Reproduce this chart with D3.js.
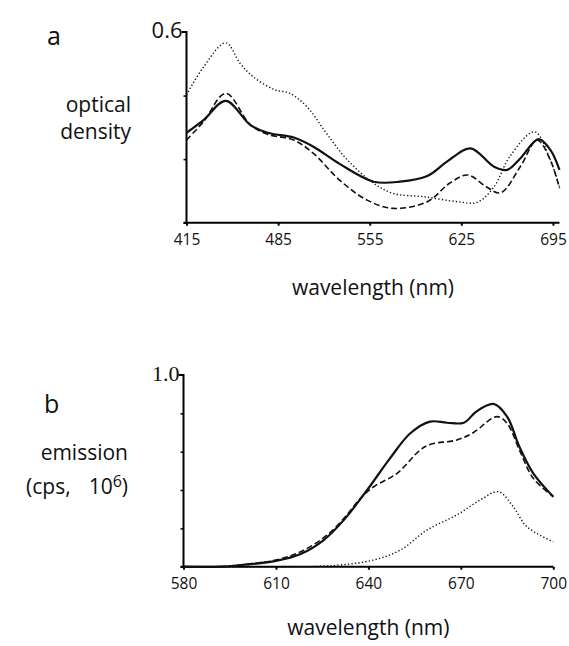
<!DOCTYPE html>
<html>
<head>
<meta charset="utf-8">
<script src="https://cdn.jsdelivr.net/npm/d3@7"></script>
<style>
  body { margin: 0; background: #fff; }
  svg text { font-family: "Open Sans", sans-serif; fill: #111; }
</style>
</head>
<body>
<div id="chart"></div>
<script>
(function(d3){

    // panel a : absorption (optical density) vs wavelength
    var absTicks = [415, 485, 555, 625, 695];
    var absSolid = [[415,0.283],[428,0.323],[445,0.383],[464,0.307],[477,0.283],[497,0.268],[512,0.239],
        [532,0.185],[558,0.129],[578,0.129],[599,0.147],[614,0.192],[632,0.234],[650,0.176],[660,0.166],
        [670,0.202],[684,0.263],[693,0.229],[700,0.166]];
    var absDashed = [[415,0.26],[428,0.318],[445,0.407],[464,0.307],[477,0.278],[497,0.26],[512,0.218],
        [532,0.134],[553,0.071],[573,0.045],[599,0.066],[616,0.124],[630,0.15],[644,0.113],[655,0.094],
        [670,0.176],[683,0.26],[693,0.197],[700,0.108]];
    var absDotted = [[415,0.402],[428,0.49],[445,0.566],[456,0.501],[466,0.459],[482,0.419],[494,0.407],
        [507,0.365],[522,0.281],[538,0.197],[558,0.124],[573,0.092],[596,0.082],[622,0.066],[637,0.064],
        [650,0.113],[662,0.208],[681,0.286],[693,0.197],[700,0.113]];

    // panel b : emission vs wavelength
    var emTicks = [580, 610, 640, 670, 700];
    var emSolid = [[580,0],[592,0],[599,0.009],[610,0.03],[618,0.066],[625.5,0.139],[632,0.243],[639.6,0.4],
        [647,0.565],[653.6,0.696],[660,0.757],[665.5,0.751],[671,0.751],[675,0.809],[680.6,0.849],
        [685,0.783],[689,0.626],[693.5,0.487],[700,0.365]];
    var emDashed = [[580,0],[592,0],[599,0.01],[610,0.035],[618,0.078],[626.6,0.165],[633,0.27],[637.4,0.357],
        [641.7,0.417],[649.3,0.487],[656.8,0.609],[660,0.638],[668.7,0.661],[674,0.699],[681.7,0.783],
        [685,0.748],[689,0.609],[693.5,0.461],[700,0.365]];
    var emDotted = [[580,0],[620,0],[631,0.009],[641.7,0.035],[650.4,0.087],[659,0.191],[668.7,0.27],
        [676.3,0.348],[682.2,0.391],[687,0.313],[691.4,0.209],[700,0.13]];

    var svg = d3.select("#chart").append("svg")
            .attr("width", 569)
            .attr("height", 646);

    var styles = {
        solid:  {w: 2.2, dash: null},
        dashed: {w: 1.6, dash: "6,3"},
        dotted: {w: 1.4, dash: "1.3,2.2"}
    };

    function drawPanel(opt){
        var x = d3.scaleLinear().domain(opt.xdom).range(opt.xr);
        var y = d3.scaleLinear().domain(opt.ydom).range(opt.yr);
        var g = svg.append("g");

        // axes
        g.append("g")
                .attr("transform", "translate(0," + opt.yr[0] + ")")
                .call(d3.axisBottom(x).tickValues(opt.xticks).tickSize(3).tickFormat(d3.format("d")))
                .call(function(a){
                    a.select(".domain").attr("d", "M" + (opt.xr[0] - 3) + ",0H" + opt.xr[1]).attr("stroke-width", 2);
                    a.selectAll(".tick line").attr("stroke-width", 2);
                    a.selectAll(".tick text").attr("dy", "1.05em")
                        .style("font-size", "15.5px");
                });
        g.append("g")
                .attr("transform", "translate(" + opt.xr[0] + ",0)")
                .call(d3.axisLeft(y).tickValues(opt.yticks).tickSize(3).tickFormat(""))
                .call(function(a){
                    a.select(".domain").attr("d", "M-5," + opt.yr[1] + "H0V" + opt.yr[0]).attr("stroke-width", 2);
                    a.selectAll(".tick line").attr("stroke-width", 1.5);
                });

        // curves
        var line = d3.line()
                .x(function(d){ return x(d[0]); })
                .y(function(d){ return y(d[1]); })
                .curve(d3.curveCatmullRom.alpha(0.5));
        opt.series.forEach(function(s){
            g.append("path")
                    .datum(s.data)
                    .attr("d", line)
                    .attr("fill", "none")
                    .attr("stroke", "#111")
                    .attr("stroke-width", styles[s.kind].w)
                    .attr("stroke-dasharray", styles[s.kind].dash);
        });

        // texts
        g.append("text").attr("x", opt.panelPos[0]).attr("y", opt.panelPos[1])
                .style("font-size", "25px").text(opt.panel);
        g.append("text").attr("x", opt.xr[0] - 4).attr("y", opt.yr[1] + 6)
                .attr("text-anchor", "end")
                .style("font-size", "22px")
                .style("font-family", opt.topFont)
                .text(opt.topLabel);
        g.append("text").attr("x", (opt.xr[0] + opt.xr[1]) / 2).attr("y", opt.yr[0] + opt.xlabOff)
                .attr("text-anchor", "middle")
                .style("font-size", "21px")
                .text("wavelength (nm)");
        return g;
    }

    var ga = drawPanel({
        xdom: [415, 700], xr: [186.5, 559.5],
        ydom: [0, 0.6], yr: [222.7, 32],
        xticks: absTicks, yticks: [0, 0.2, 0.4],
        series: [{kind: "dotted", data: absDotted}, {kind: "dashed", data: absDashed}, {kind: "solid", data: absSolid}],
        panel: "a", panelPos: [47, 45],
        topLabel: "0.6", topFont: "'Open Sans', sans-serif",
        xlabOff: 72
    });
    ga.append("text").attr("x", 131).attr("y", 112).attr("text-anchor", "end")
            .style("font-size", "21px").text("optical");
    ga.append("text").attr("x", 131).attr("y", 139).attr("text-anchor", "end")
            .style("font-size", "21px").text("density");

    var gb = drawPanel({
        xdom: [580, 700], xr: [183.5, 553.3],
        ydom: [0, 1], yr: [566.7, 375],
        xticks: emTicks, yticks: [0, 0.2, 0.4, 0.6, 0.8],
        series: [{kind: "dotted", data: emDotted}, {kind: "dashed", data: emDashed}, {kind: "solid", data: emSolid}],
        panel: "b", panelPos: [44, 413],
        topLabel: "1.0", topFont: "'Liberation Serif', serif",
        xlabOff: 68
    });
    gb.append("text").attr("x", 128).attr("y", 460).attr("text-anchor", "end")
            .style("font-size", "21px").text("emission");
    var t = gb.append("text").attr("x", 128).attr("y", 494).attr("text-anchor", "end")
            .style("font-size", "21px");
    t.append("tspan").text("(cps,");
    t.append("tspan").attr("dx", 18).text("10");
    t.append("tspan").attr("dy", -7).style("font-size", "16px").text("6");
    t.append("tspan").attr("dy", 7).text(")");

})(d3);
</script>
</body>
</html>
